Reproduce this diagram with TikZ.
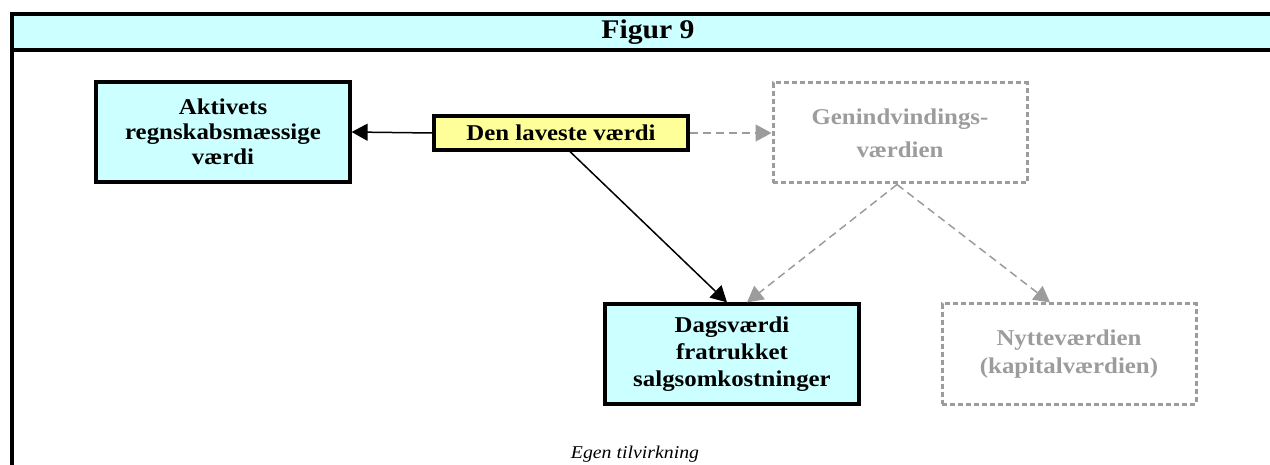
\documentclass[tikz,border=0pt]{standalone}
\usepackage{fontspec}
\setmainfont{Liberation Serif}[FakeStretch=1.1]
\usepackage{tikz}
\usetikzlibrary{arrows.meta, positioning, calc}

\definecolor{lightcyan}{HTML}{CCFFFF}
\definecolor{lightyellow}{HTML}{FFFF99}
\definecolor{ghostgray}{HTML}{9C9C9C}

\begin{document}
\begin{tikzpicture}[x=1pt, y=-1pt,
  blackbox/.style={draw, line width=3.2pt, fill=lightcyan, minimum width=254pt, minimum height=100pt, align=center, font=\bfseries\fontsize{22.6}{25}\selectfont},
  ghostbox/.style={draw=ghostgray, line width=3pt, dash pattern=on 5pt off 3pt, text=ghostgray, minimum width=254pt, minimum height=100pt, align=center, font=\bfseries\fontsize{22.6}{25}\selectfont},
  arr/.style={-{Triangle[length=16pt,width=17pt]}, line width=1.5pt},
  garr/.style={-{Triangle[length=16pt,width=17pt]}, line width=1.5pt, ghostgray, dash pattern=on 8pt off 5pt}]
\useasboundingbox (0,0) rectangle (1270,465);

% Frame and title bar
\fill[lightcyan] (12,14) rectangle (1272,50);
\draw[line width=3.2pt] (1272,14) -- (12,14) -- (12,467);
\draw[line width=3.2pt] (12,50) -- (1272,50);
\node[font=\bfseries\fontsize{27}{29}\selectfont] (title) at (648,32) {Figur 9};

% Boxes
\node[blackbox] (aktiv) at (223,132) {Aktivets\\regnskabsmæssige\\værdi};
\node[blackbox, fill=lightyellow, minimum height=34pt, inner sep=2pt] (laveste) at (561,133) {Den laveste værdi};
\node[ghostbox] (genind) at (900,133) {Genindvindings-\\[8pt]værdien};
\node[blackbox] (dags) at (732,354) {Dagsværdi\\[2pt]fratrukket\\[2pt]salgsomkostninger};
\node[ghostbox] (nytte) at (1069,354) {Nytteværdien\\[3pt](kapitalværdien)};

% Arrows
\draw[arr] (laveste.west) -- (aktiv.east);
\draw[garr] (laveste.east) -- (genind.west);
\draw[arr] ($(laveste.south)+(9,0)$) -- ($(dags.north)+(-5,0)$);
\draw[garr] ($(genind.south)+(-3,0)$) -- ($(dags.north)+(15,0)$);
\draw[garr] ($(genind.south)+(-3,0)$) -- ($(nytte.north)+(-19,0)$);

% Source
\node[font=\itshape\fontsize{18}{20}\selectfont, anchor=base] (kilde) at (635,458) {Egen tilvirkning};
\end{tikzpicture}
\end{document}
